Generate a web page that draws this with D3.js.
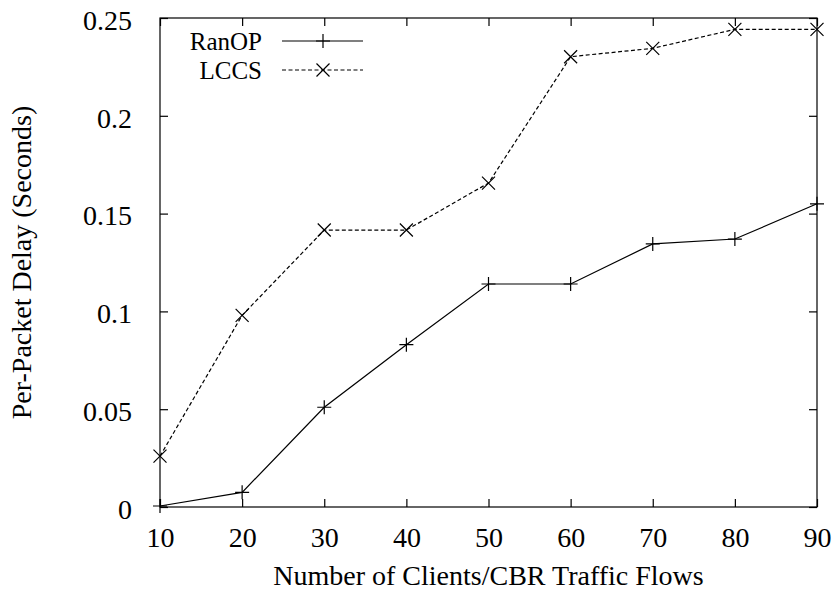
<!DOCTYPE html>
<html><head><meta charset="utf-8">
<script src="https://cdn.jsdelivr.net/npm/d3@7"></script>
<style>html,body{margin:0;padding:0;background:#fff}</style>
</head><body>
<script>
const xValues = [10, 20, 30, 40, 50, 60, 70, 80, 90];
const ranop = [0.0005, 0.0075, 0.051, 0.083, 0.114, 0.114, 0.1345, 0.137, 0.155];
const lccs = [0.026, 0.098, 0.1416, 0.1416, 0.1656, 0.2302, 0.2345, 0.2442, 0.2442];
const xTicks = [10, 20, 30, 40, 50, 60, 70, 80, 90];
const yTicks = [0, 0.05, 0.1, 0.15, 0.2, 0.25];
const yTickLabels = ["0", "0.05", "0.1", "0.15", "0.2", "0.25"];
const seriesNames = ["RanOP", "LCCS"];
const xLabel = "Number of Clients/CBR Traffic Flows";
const yLabel = "Per-Packet Delay (Seconds)";

const W = 838, H = 594;
const m = {l: 160, r: 21, t: 18, b: 87};
const font = "'Liberation Serif','Times New Roman',serif";
const fs = 28;
const svg = d3.select("body").append("svg").attr("width", W).attr("height", H);
const x = d3.scaleLinear().domain([10, 90]).range([m.l, W - m.r]);
const y = d3.scaleLinear().domain([0, 0.25]).range([H - m.b, m.t]);
const g = svg.append("g");

// frame
g.append("rect").attr("x", m.l).attr("y", m.t).attr("width", W - m.r - m.l).attr("height", H - m.b - m.t)
  .attr("fill", "none").attr("stroke", "#000").attr("stroke-width", 1.2);

const tl = 8;
const xb = g.append("g").attr("transform", `translate(0,${H - m.b})`)
  .call(d3.axisBottom(x).tickValues(xTicks).tickSize(-tl).tickPadding(tl + 12).tickFormat(d3.format("d")));
const xt = g.append("g").attr("transform", `translate(0,${m.t})`)
  .call(d3.axisTop(x).tickValues(xTicks).tickSize(-tl).tickFormat(""));
const yl = g.append("g").attr("transform", `translate(${m.l},0)`)
  .call(d3.axisLeft(y).tickValues(yTicks).tickSize(-tl).tickPadding(tl + 20).tickFormat((d, i) => yTickLabels[i]));
const yr = g.append("g").attr("transform", `translate(${W - m.r},0)`)
  .call(d3.axisRight(y).tickValues(yTicks).tickSize(-tl).tickFormat(""));
[xb, xt, yl, yr].forEach(a => {
  a.select(".domain").remove();
  a.selectAll("line").attr("stroke", "#000").attr("stroke-width", 1.2);
  a.selectAll("text").attr("font-family", font).attr("font-size", fs).attr("fill", "#000");
});
yl.selectAll("text").attr("dy", "0.4em");

// axis labels
svg.append("text").attr("x", (m.l + W - m.r) / 2).attr("y", 585).attr("text-anchor", "middle")
  .attr("font-family", font).attr("font-size", fs).text(xLabel);
svg.append("text").attr("transform", `translate(31,${(m.t + H - m.b) / 2}) rotate(-90)`).attr("text-anchor", "middle")
  .attr("font-family", font).attr("font-size", fs).text(yLabel);

const line = d3.line().x((d, i) => x(xValues[i])).y(d => y(d));
function plus(sel, cx, cy, s) {
  sel.append("path").attr("d", `M${cx - s},${cy}H${cx + s}M${cx},${cy - s}V${cy + s}`)
    .attr("stroke", "#000").attr("stroke-width", 1.2).attr("fill", "none");
}
function cross(sel, cx, cy, s) {
  sel.append("path").attr("d", `M${cx - s},${cy - s}L${cx + s},${cy + s}M${cx - s},${cy + s}L${cx + s},${cy - s}`)
    .attr("stroke", "#000").attr("stroke-width", 1.2).attr("fill", "none");
}
g.append("path").datum(ranop).attr("d", line).attr("fill", "none").attr("stroke", "#000").attr("stroke-width", 1.2);
g.append("path").datum(lccs).attr("d", line).attr("fill", "none").attr("stroke", "#000").attr("stroke-width", 1.2)
  .attr("stroke-dasharray", "4,2.5");
ranop.forEach((v, i) => plus(g, x(xValues[i]), y(v), 7));
lccs.forEach((v, i) => cross(g, x(xValues[i]), y(v), 6.5));

// legend
const lg = svg.append("g");
const rows = [{name: seriesNames[0], dash: null, mk: plus, cy: 41}, {name: seriesNames[1], dash: "4,2.5", mk: cross, cy: 70}];
rows.forEach(r => {
  lg.append("text").attr("x", 262).attr("y", r.cy + 9).attr("text-anchor", "end")
    .attr("font-family", font).attr("font-size", 25).text(r.name);
  lg.append("line").attr("x1", 282).attr("x2", 363).attr("y1", r.cy).attr("y2", r.cy)
    .attr("stroke", "#000").attr("stroke-width", 1.2).attr("stroke-dasharray", r.dash);
  r.mk(lg, 323, r.cy, r.mk === plus ? 7 : 6.5);
});
</script>
</body></html>
